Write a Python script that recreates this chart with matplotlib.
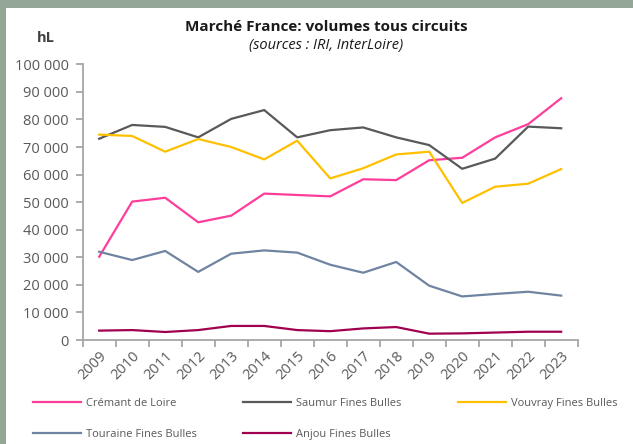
import matplotlib
matplotlib.use("Agg")
import matplotlib.pyplot as plt
from matplotlib.ticker import FuncFormatter

plt.rcParams['font.family'] = ['Open Sans', 'DejaVu Sans']

years = [str(y) for y in range(2009, 2024)]

cremant = [30200, 50200, 51600, 42700, 45100, 53100, 52600, 52100, 58300, 58000,
           65200, 66100, 73500, 78300, 87700]
saumur = [73000, 78000, 77300, 73500, 80200, 83400, 73500, 76100, 77100, 73500,
          70700, 62100, 65800, 77400, 76800]
vouvray = [74500, 74000, 68300, 72900, 70000, 65500, 72300, 58600, 62300, 67300,
           68300, 49700, 55600, 56700, 62000]
touraine = [32000, 29000, 32300, 24700, 31300, 32500, 31700, 27300, 24400, 28300,
            19700, 15800, 16700, 17500, 16100]
anjou = [3400, 3600, 2900, 3600, 5100, 5100, 3600, 3200, 4200, 4700,
         2300, 2400, 2700, 3000, 3000]

series = [
    ("Crémant de Loire", cremant, "#ff3d9a"),
    ("Saumur Fines Bulles", saumur, "#595959"),
    ("Vouvray Fines Bulles", vouvray, "#ffc000"),
    ("Touraine Fines Bulles", touraine, "#6f84a0"),
    ("Anjou Fines Bulles", anjou, "#a0004f"),
]

fig = plt.figure(figsize=(6.33, 4.44), dpi=100, facecolor="white")
# grey-green frame on top and left
band = "#94a797"
fig.patches.append(plt.Rectangle((0, 1 - 8 / 444), 1, 8 / 444, transform=fig.transFigure,
                                 facecolor=band, edgecolor="none", zorder=-1))
fig.patches.append(plt.Rectangle((0, 0), 6 / 633, 1, transform=fig.transFigure,
                                 facecolor=band, edgecolor="none", zorder=-1))

ax = fig.add_axes([82.7 / 633, 1 - 340 / 444, 495 / 633, 275.7 / 444])
ax.set_facecolor("none")

x = list(range(len(years)))
lines = {}
for name, vals, col in series:
    lines[name], = ax.plot(x, vals, color=col, lw=1.6, label=name)

ax.set_xlim(-0.5, len(years) - 0.5)
ax.set_ylim(0, 100000)
ax.set_yticks(range(0, 100001, 10000))
ax.yaxis.set_major_formatter(FuncFormatter(lambda v, p: f"{int(v):,}".replace(",", " ")))

ax.set_xticks(x)
ax.set_xticklabels(years, rotation=45, ha="right", rotation_mode="anchor")
ax.set_xticks([i - 0.5 for i in range(len(years) + 1)], minor=True)
ax.tick_params(axis="x", which="major", length=0, pad=6)
ax.tick_params(axis="x", which="minor", length=5, width=1.3, color="#a6a6a6")
ax.tick_params(axis="y", length=5, width=1.3, color="#a6a6a6", pad=5)
ax.tick_params(labelsize=10.5, labelcolor="#595959")

for s in ["top", "right"]:
    ax.spines[s].set_visible(False)
for s in ["left", "bottom"]:
    ax.spines[s].set_color("#a6a6a6")
    ax.spines[s].set_linewidth(1.3)

fig.text(0.515, 1 - 27 / 444, "Marché France: volumes tous circuits", ha="center", va="center",
         fontsize=11, fontweight="bold", color="#1a1a1a")
fig.text(0.515, 1 - 45 / 444, "(sources : IRI, InterLoire)", ha="center", va="center",
         fontsize=10.5, style="italic", color="#1a1a1a")
fig.text(46 / 633, 1 - 38 / 444, "hL", ha="center", va="center",
         fontsize=10.5, fontweight="bold", color="#404040")

# legend: three columns placed by hand
columns = [(33, ["Crémant de Loire", "Touraine Fines Bulles"]),
           (243, ["Saumur Fines Bulles", "Anjou Fines Bulles"]),
           (458, ["Vouvray Fines Bulles"])]
for xpos, names in columns:
    leg = fig.legend([lines[n] for n in names], names, loc="upper left",
                     bbox_to_anchor=(xpos / 633, 1 - 398 / 444), frameon=False,
                     fontsize=8, labelcolor="#595959", handlelength=4.3,
                     handletextpad=0.5, labelspacing=1.8, borderpad=0,
                     borderaxespad=0)

fig.savefig("out.png", dpi=100, facecolor=fig.get_facecolor())
